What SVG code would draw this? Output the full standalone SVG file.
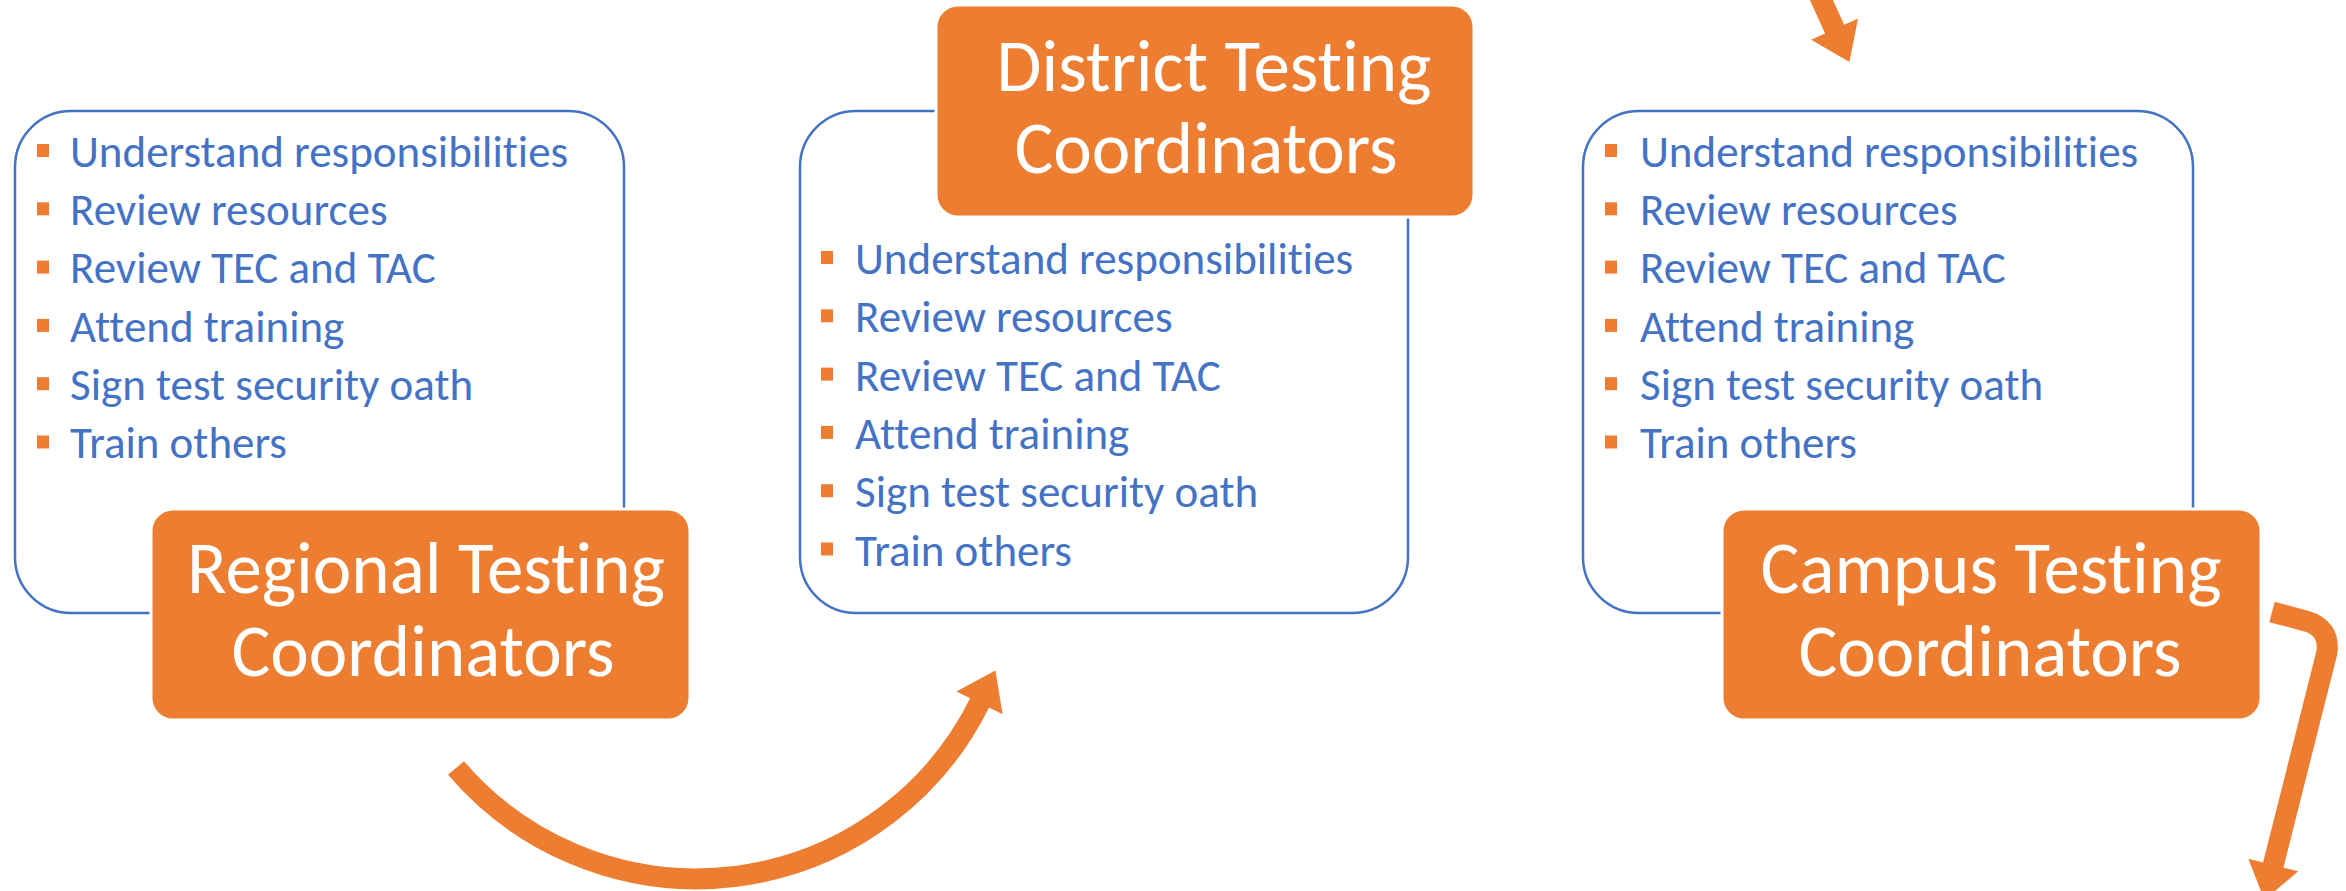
<svg xmlns="http://www.w3.org/2000/svg" width="2346" height="891" viewBox="0 0 2346 891">
<style>
.panel{fill:#FFFFFF;stroke:#4472C4;stroke-width:2.5}
.title{fill:#ED7D31;stroke:#FFFFFF;stroke-width:3}
.ttl{font-family:Carlito,Lato,"Liberation Sans",sans-serif;font-weight:300;font-size:73px;fill:#FFFFFF;text-anchor:middle;font-variant-ligatures:none}
.item{font-family:Carlito,Lato,"Liberation Sans",sans-serif;font-size:45px;fill:#4472C4;font-variant-ligatures:none}
.bul{fill:#ED7D31}
.arrow{fill:none;stroke:#ED7D31;stroke-width:21;stroke-linecap:butt}
</style>
<defs>
<marker id="head" viewBox="0 0 7 10" refX="0.2" refY="5" markerUnits="strokeWidth" markerWidth="1.75" markerHeight="2.45" orient="auto">
<path d="M0,0 L7,5 L0,10 Z" fill="#ED7D31"/>
</marker>
<g id="bullets">
<rect x="0" y="0" width="12" height="13" class="bul"/>
<rect x="0" y="58.3" width="12" height="13" class="bul"/>
<rect x="0" y="116.6" width="12" height="13" class="bul"/>
<rect x="0" y="174.9" width="12" height="13" class="bul"/>
<rect x="0" y="233.2" width="12" height="13" class="bul"/>
<rect x="0" y="291.5" width="12" height="13" class="bul"/>
</g>
</defs>
<rect width="2346" height="891" fill="#FFFFFF"/>

<g id="regional-panel">
<rect class="panel" x="15" y="111" width="609" height="502" rx="56" ry="56"/>
<use href="#bullets" x="37" y="144"/>
<text class="item" x="70" y="166.7">Understand responsibilities</text>
<text class="item" x="70" y="225">Review resources</text>
<text class="item" x="70" y="283.3">Review TEC and TAC</text>
<text class="item" x="70" y="341.6">Attend training</text>
<text class="item" x="70" y="399.9">Sign test security oath</text>
<text class="item" x="70" y="458.2">Train others</text>
</g>

<g id="district-panel">
<rect class="panel" x="800" y="111" width="608" height="502" rx="56" ry="56"/>
<use href="#bullets" x="821" y="251"/>
<text class="item" x="855" y="274">Understand responsibilities</text>
<text class="item" x="855" y="332.3">Review resources</text>
<text class="item" x="855" y="390.6">Review TEC and TAC</text>
<text class="item" x="855" y="448.9">Attend training</text>
<text class="item" x="855" y="507.2">Sign test security oath</text>
<text class="item" x="855" y="565.5">Train others</text>
</g>

<g id="campus-panel">
<rect class="panel" x="1583" y="111" width="610" height="502" rx="56" ry="56"/>
<use href="#bullets" x="1605" y="144"/>
<text class="item" x="1640" y="166.7">Understand responsibilities</text>
<text class="item" x="1640" y="225">Review resources</text>
<text class="item" x="1640" y="283.3">Review TEC and TAC</text>
<text class="item" x="1640" y="341.6">Attend training</text>
<text class="item" x="1640" y="399.9">Sign test security oath</text>
<text class="item" x="1640" y="458.2">Train others</text>
</g>

<g id="regional-title">
<rect class="title" x="151" y="509" width="539" height="211" rx="22" ry="22"/>
<text class="ttl" x="426" y="593">Regional Testing</text>
<text class="ttl" x="423" y="676">Coordinators</text>
</g>

<g id="district-title">
<rect class="title" x="936" y="5" width="538" height="212" rx="22" ry="22"/>
<text class="ttl" x="1214" y="91">District Testing</text>
<text class="ttl" x="1206" y="173">Coordinators</text>
</g>

<g id="campus-title">
<rect class="title" x="1722" y="509" width="539" height="211" rx="22" ry="22"/>
<text class="ttl" x="1991" y="593">Campus Testing</text>
<text class="ttl" x="1990" y="676">Coordinators</text>
</g>

<g id="connectors">
<path class="arrow" d="M456,768 A316,316 0 0 0 980,702" marker-end="url(#head)"/>
<path class="arrow" d="M1816,-12 L1835,30" marker-end="url(#head)"/>
<path class="arrow" d="M2272,612 L2306,621 Q2330,628 2327,652 L2273,866" marker-end="url(#head)"/>
</g>
</svg>
